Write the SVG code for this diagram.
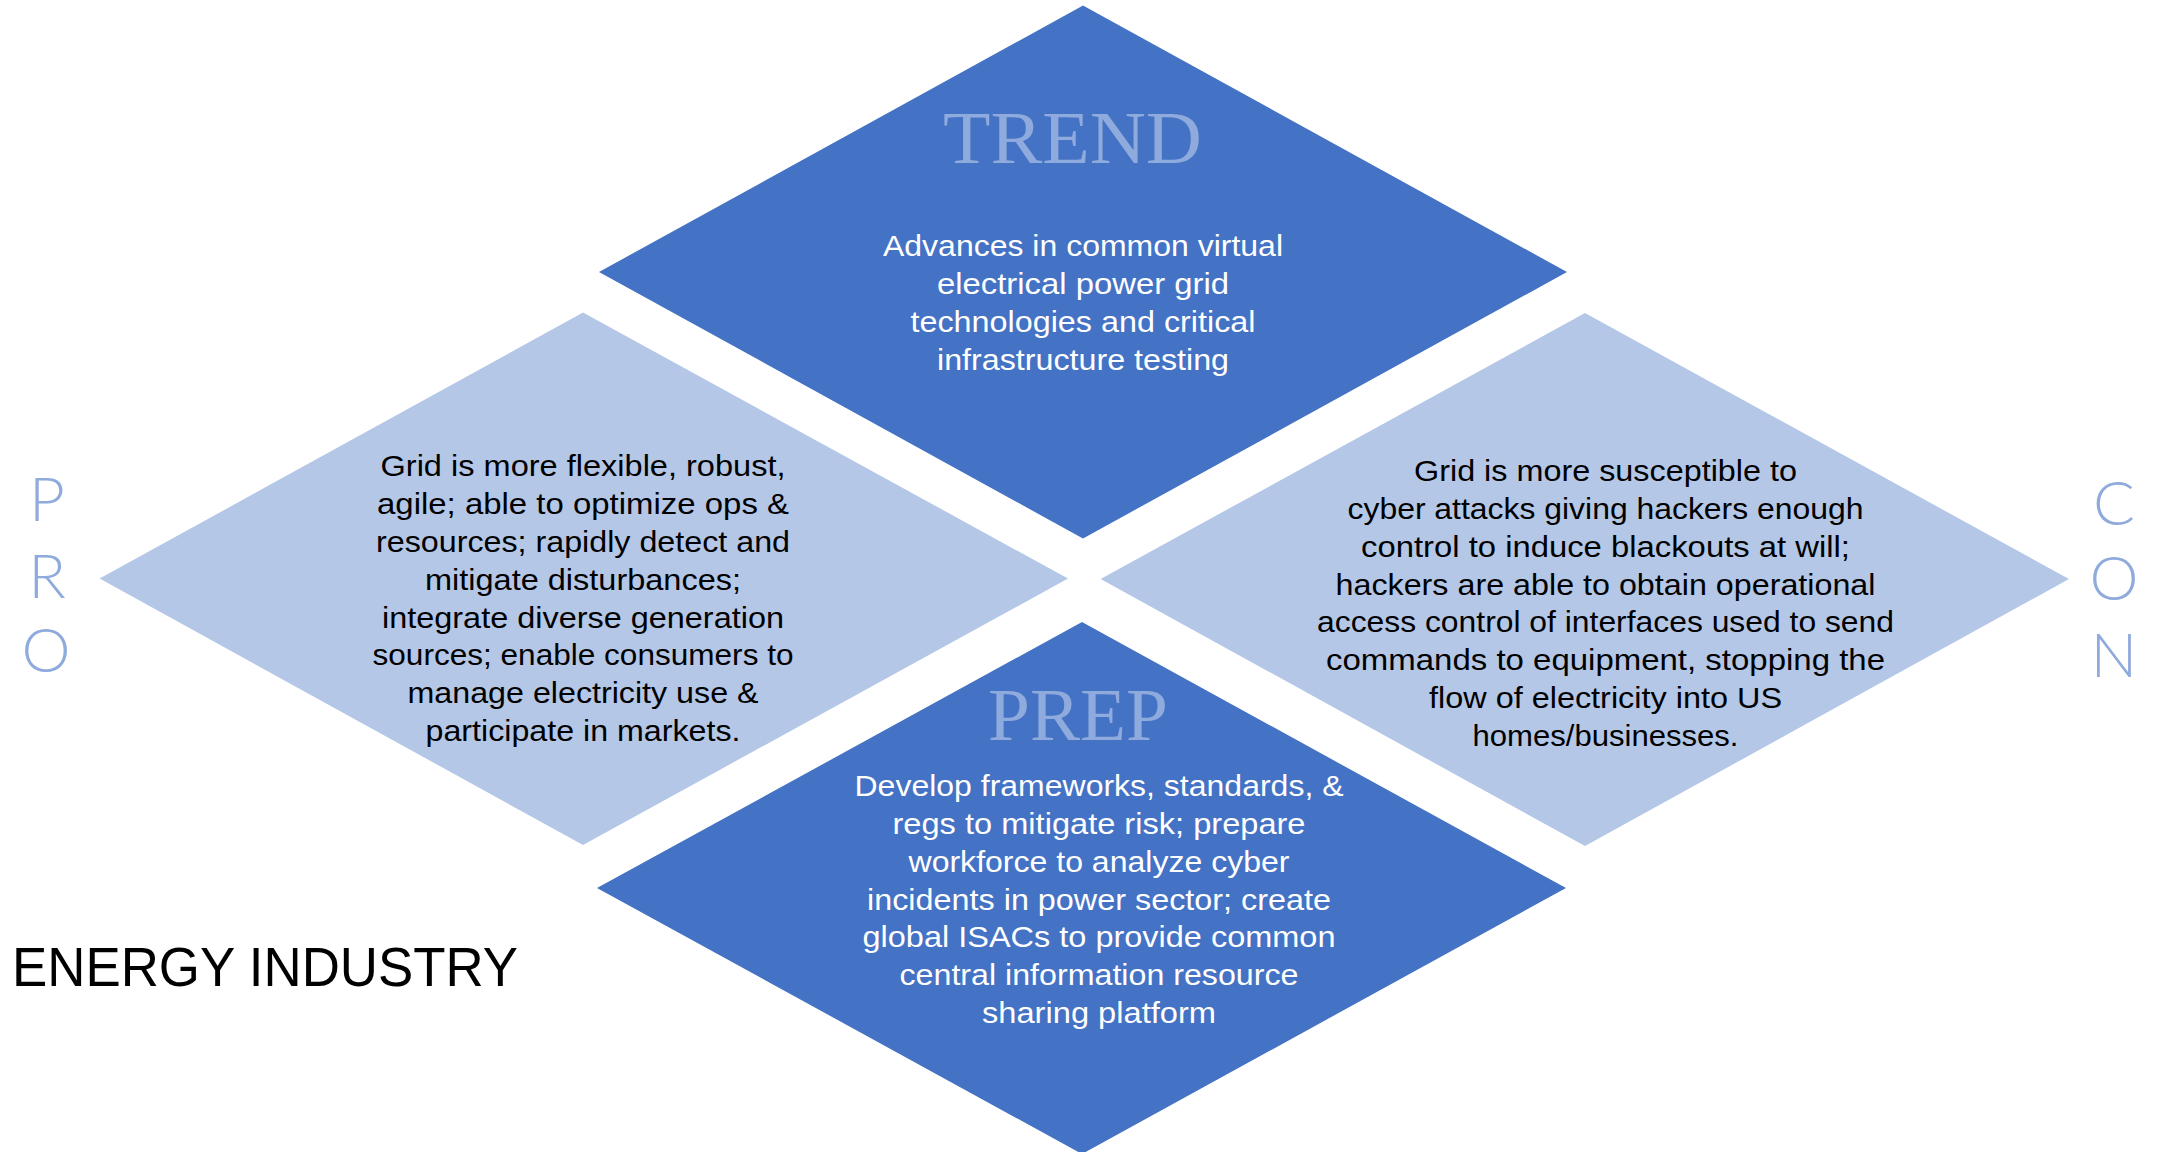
<svg xmlns="http://www.w3.org/2000/svg" width="2157" height="1152" viewBox="0 0 2157 1152">
<style>
.dark{fill:#4472C4}
.light{fill:#B4C7E7}
.title{font-family:"Liberation Serif",serif;font-size:75px;fill:#8FAADC;text-anchor:middle}
.body{font-family:"Liberation Sans Narrow","Liberation Sans",sans-serif;font-size:30px;text-anchor:middle}
.w{fill:#FFFFFF}
.k{fill:#000000}
.side{font-family:Lato,"Open Sans",sans-serif;font-weight:300;font-size:62px;fill:#8FAADC;text-anchor:middle}
.label{font-family:"Liberation Sans",sans-serif;font-size:55px;fill:#000000}
</style>
<rect width="2157" height="1152" fill="#FFFFFF"/>
<g id="trend">
<polygon class="dark" points="1083,5.5 1567,272 1083,538.5 599,272"/>
<text class="title" x="1072.5" y="163" textLength="259" lengthAdjust="spacingAndGlyphs">TREND</text>
<text class="body w" x="1083" y="256" textLength="400" lengthAdjust="spacingAndGlyphs">Advances in common virtual</text>
<text class="body w" x="1083" y="294" textLength="292" lengthAdjust="spacingAndGlyphs">electrical power grid</text>
<text class="body w" x="1083" y="332" textLength="345" lengthAdjust="spacingAndGlyphs">technologies and critical</text>
<text class="body w" x="1083" y="370" textLength="292" lengthAdjust="spacingAndGlyphs">infrastructure testing</text>
</g>
<g id="pro-diamond">
<polygon class="light" points="583,312.5 1068,578.6 583,845 99.6,578.6"/>
<text class="body k" x="583" y="476" textLength="405" lengthAdjust="spacingAndGlyphs">Grid is more flexible, robust,</text>
<text class="body k" x="583" y="514" textLength="412" lengthAdjust="spacingAndGlyphs">agile; able to optimize ops &amp;</text>
<text class="body k" x="583" y="552" textLength="414" lengthAdjust="spacingAndGlyphs">resources; rapidly detect and</text>
<text class="body k" x="583" y="590" textLength="316" lengthAdjust="spacingAndGlyphs">mitigate disturbances;</text>
<text class="body k" x="583" y="628" textLength="402" lengthAdjust="spacingAndGlyphs">integrate diverse generation</text>
<text class="body k" x="583" y="665" textLength="421" lengthAdjust="spacingAndGlyphs">sources; enable consumers to</text>
<text class="body k" x="583" y="703" textLength="351" lengthAdjust="spacingAndGlyphs">manage electricity use &amp;</text>
<text class="body k" x="583" y="741" textLength="315" lengthAdjust="spacingAndGlyphs">participate in markets.</text>
</g>
<g id="con-diamond">
<polygon class="light" points="1585,313 2069,579 1585,846 1100.6,579"/>
<text class="body k" x="1605.5" y="481" textLength="383" lengthAdjust="spacingAndGlyphs">Grid is more susceptible to</text>
<text class="body k" x="1605.5" y="519" textLength="516" lengthAdjust="spacingAndGlyphs">cyber attacks giving hackers enough</text>
<text class="body k" x="1605.5" y="557" textLength="489" lengthAdjust="spacingAndGlyphs">control to induce blackouts at will;</text>
<text class="body k" x="1605.5" y="595" textLength="540" lengthAdjust="spacingAndGlyphs">hackers are able to obtain operational</text>
<text class="body k" x="1605.5" y="632" textLength="577" lengthAdjust="spacingAndGlyphs">access control of interfaces used to send</text>
<text class="body k" x="1605.5" y="670" textLength="559" lengthAdjust="spacingAndGlyphs">commands to equipment, stopping the</text>
<text class="body k" x="1605.5" y="708" textLength="353" lengthAdjust="spacingAndGlyphs">flow of electricity into US</text>
<text class="body k" x="1605.5" y="746" textLength="266" lengthAdjust="spacingAndGlyphs">homes/businesses.</text>
</g>
<g id="prep">
<polygon class="dark" points="1082,622 1566,888 1082,1154 597,888"/>
<text class="title" x="1078" y="740" textLength="180" lengthAdjust="spacingAndGlyphs">PREP</text>
<text class="body w" x="1099" y="796" textLength="489" lengthAdjust="spacingAndGlyphs">Develop frameworks, standards, &amp;</text>
<text class="body w" x="1099" y="834" textLength="413" lengthAdjust="spacingAndGlyphs">regs to mitigate risk; prepare</text>
<text class="body w" x="1099" y="872" textLength="381" lengthAdjust="spacingAndGlyphs">workforce to analyze cyber</text>
<text class="body w" x="1099" y="910" textLength="464" lengthAdjust="spacingAndGlyphs">incidents in power sector; create</text>
<text class="body w" x="1099" y="947" textLength="473" lengthAdjust="spacingAndGlyphs">global ISACs to provide common</text>
<text class="body w" x="1099" y="985" textLength="399" lengthAdjust="spacingAndGlyphs">central information resource</text>
<text class="body w" x="1099" y="1023" textLength="234" lengthAdjust="spacingAndGlyphs">sharing platform</text>
</g>
<g id="pro-label">
<text class="side" x="47" y="521">P</text>
<text class="side" x="47" y="598">R</text>
<text class="side" x="46" y="672">O</text>
</g>
<g id="con-label">
<text class="side" x="2114" y="525">C</text>
<text class="side" x="2114" y="600">O</text>
<text class="side" x="2114" y="677">N</text>
</g>
<g id="title">
<text class="label" x="12" y="986" textLength="506" lengthAdjust="spacingAndGlyphs">ENERGY INDUSTRY</text>
</g>
</svg>
